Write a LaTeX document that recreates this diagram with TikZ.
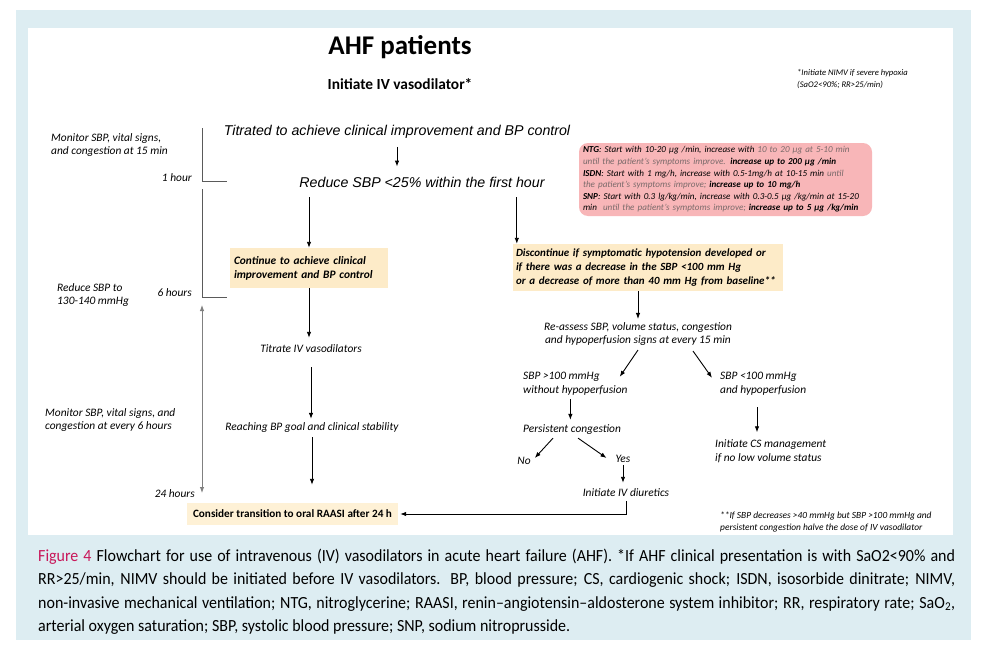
\documentclass[tikz,border=0pt]{standalone}
\usepackage{fontspec}
\setmainfont{Carlito}
\newfontfamily\arialfont{Liberation Sans}
\newfontfamily\capfont{Carlito}[FakeStretch=0.94]
\usetikzlibrary{arrows.meta}
\definecolor{bgblue}{HTML}{DDEDF2}
\definecolor{boxyellow}{HTML}{FDEBC8}
\definecolor{boxpale}{HTML}{FEF1D6}
\definecolor{boxpink}{HTML}{F8B6B8}
\definecolor{figred}{HTML}{C8175A}
\definecolor{notegray}{HTML}{7A6A6A}
\definecolor{linegray}{HTML}{5A5A5A}
\begin{document}
\begin{tikzpicture}[x=1pt, y=-1pt, >={Latex[length=6pt,width=4.5pt]},
  txt/.style={inner sep=0pt, align=left, font=\itshape\fontsize{11.4}{13.8}\selectfont},
  mainline/.style={inner sep=0pt, font=\arialfont\itshape\fontsize{14.2}{16}\selectfont},
  ybox/.style={fill=boxyellow, align=left, inner xsep=4pt, inner ysep=2pt, font=\bfseries\itshape\fontsize{11.4}{13.8}\selectfont},
  note/.style={inner sep=0pt, align=left, font=\itshape\fontsize{8.6}{12}\selectfont},
  flow/.style={->, line width=0.9pt},
  hours/.style={draw=linegray, line width=0.9pt}]
\useasboundingbox (0,0) rectangle (985,661);
\fill[bgblue] (16,10) rectangle (971,640);
\fill[white] (28,28) rectangle (953,535);

\node[font=\bfseries\fontsize{27}{30}\selectfont] (title) at (400,47) {AHF patients};
\node[font=\bfseries\fontsize{15.4}{18}\selectfont] (init) at (400,84) {Initiate IV vasodilator*};
\node[note, anchor=west] (nimv) at (797,79) {*Initiate NIMV if severe hypoxia\\(SaO2<90\%; RR>25/min)};

% time line on the left
\node[txt, anchor=west] (mon1) at (51,145) {Monitor SBP, vital signs,\\and congestion at 15 min};
\node[txt, anchor=east] (h1) at (192,178) {1 hour};
\node[txt, anchor=west] (goal) at (57,295) {Reduce SBP to\\130-140 mmHg};
\node[txt, anchor=east] (h6) at (192,293) {6 hours};
\node[txt, anchor=west] (mon6) at (45,420) {Monitor SBP, vital signs, and\\congestion at every 6 hours};
\node[txt, anchor=east] (h24) at (195,494) {24 hours};
\draw[hours] (202,128) -- (202,181) -- (227,181);
\draw[hours] (202,189) -- (202,297) -- (227,297);
\draw[hours, draw=gray, <->] (202,305) -- (202,493);

% first hour
\node[mainline] (titr) at (397,132) {Titrated to achieve clinical improvement and BP control};
\node[mainline] (red) at (422,182) {Reduce SBP <25\% within the first hour};
\draw[flow, shorten <=8pt, shorten >=10pt] (titr.south) -- (titr.south |- red.north);

% left branch
\node[ybox, text width=150pt, minimum height=40pt] (cont) at (309,268) {Continue to achieve clinical\\improvement and BP control};
\node[txt] (titrate) at (311,349) {Titrate IV vasodilators};
\node[txt] (reach) at (312,428) {Reaching BP goal and clinical stability};
\node[ybox, fill=boxpale, font=\bfseries\fontsize{11.2}{12}\selectfont, minimum width=211pt, minimum height=22pt] (cons) at (292.5,514) {Consider transition to oral RAASI after 24 h};
\draw[flow, shorten <=10pt] (red.south -| cont.north) -- (cont.north);
\draw[flow, shorten >=7pt] (cont.south) -- (cont.south |- titrate.north);
\draw[flow, shorten <=14pt, shorten >=4pt] (titrate.south) -- (titrate.south |- reach.north);
\draw[flow, shorten <=4pt, shorten >=18pt] (reach.south) -- (reach.south |- cons.north);

% right branch
\node[ybox, font=\bfseries\itshape\fontsize{11}{14}\selectfont, text width=264pt, minimum height=47pt, inner xsep=3pt] (disc) at (648,267.5) {Discontinue if symptomatic hypotension developed or\\if there was a decrease in the SBP <100 mm Hg\\or a decrease of more than 40 mm Hg from baseline**};
\node[rounded corners=9pt, fill=boxpink, inner xsep=4pt, text width=285pt, minimum height=73pt, align=left, font=\itshape\fontsize{9.1}{11.6}\selectfont] (dose) at (725.5,179.5) {\textbf{NTG}: Start with 10-20 µg /min, increase with {\color{notegray}10 to 20 µg at 5-10 min}\\{\color{notegray}until the patient's symptoms improve.} \textbf{increase up to 200 µg /min}\\\textbf{ISDN}: Start with 1 mg/h, increase with 0.5-1mg/h at 10-15 min {\color{notegray}until}\\{\color{notegray}the patient's symptoms improve;} \textbf{increase up to 10 mg/h}\\\textbf{SNP}: Start with 0.3 lg/kg/min, increase with 0.3-0.5 µg /kg/min at 15-20\\min \ {\color{notegray}until the patient's symptoms improve;} \textbf{increase up to 5 µg /kg/min}};
\draw[flow, shorten <=10pt] ([xshift=4pt]disc.north west |- red.south) -- ([xshift=4pt]disc.north west);

\node[txt, align=center] (reas) at (638,334) {Re-assess SBP, volume status, congestion\\and hypoperfusion signs at every 15 min};
\node[txt, anchor=west] (hi) at (523,383.5) {SBP >100 mmHg\\without hypoperfusion};
\node[txt, anchor=west] (lo) at (720,383.5) {SBP <100 mmHg\\and hypoperfusion};
\node[txt, anchor=west] (pers) at (523,430) {Persistent congestion};
\node[txt] (no) at (524,461) {No};
\node[txt] (yes) at (623,459) {Yes};
\node[txt] (diur) at (626,493) {Initiate IV diuretics};
\node[txt, anchor=west] (cs) at (715,451) {Initiate CS management\\if no low volume status};
\node[note, font=\itshape\fontsize{9.4}{12}\selectfont, anchor=west] (halve) at (720,522) {**If SBP decreases >40 mmHg but SBP >100 mmHg and\\persistent congestion halve the dose of IV vasodilator};

\draw[flow, shorten >=3pt] (disc.south -| reas.north) -- (reas.north);
\draw[flow] ([yshift=-4pt]reas.south) -- ([xshift=-8pt,yshift=-5pt]hi.north east);
\draw[flow] ([xshift=55pt,yshift=-5pt]reas.south) -- ([xshift=-8pt,yshift=-6pt]lo.north west);
\draw[flow, shorten <=4pt, shorten >=5pt] ([xshift=-5pt]hi.south) -- ([xshift=-5pt]hi.south |- pers.north);
\draw[flow] ([xshift=-19pt,yshift=-3pt]pers.south) -- ([xshift=4pt,yshift=3pt]no.east);
\draw[flow] ([xshift=6pt,yshift=-3pt]pers.south) -- ([xshift=-9pt,yshift=1pt]yes.west);
\draw[flow, shorten <=2pt, shorten >=6pt] (yes.south) -- (yes.south |- diur.north);
\draw[flow, shorten <=4pt, shorten >=2pt] (diur.south) |- (cons.east);
\draw[flow, shorten <=12pt, shorten >=7pt] ([xshift=42pt]cs.west |- lo.south) -- ([xshift=42pt]cs.north west);

% caption
\node[anchor=north west, inner sep=0pt, text width=917pt, align=justify, font=\capfont\fontsize{17}{23.3}\selectfont] (cap) at (38,549) {{\color{figred}\fontsize{17}{23.3}\selectfont Figure 4}\ Flowchart for use of intravenous (IV) vasodilators in acute heart failure (AHF). *If AHF clinical presentation is with SaO2<90\% and\linebreak RR>25/min, NIMV should be initiated before IV vasodilators. BP, blood pressure; CS, cardiogenic shock; ISDN, isosorbide dinitrate; NIMV,\linebreak non-invasive mechanical ventilation; NTG, nitroglycerine; RAASI, renin–angiotensin–aldosterone system inhibitor; RR, respiratory rate; SaO\textsubscript{2},\linebreak arterial oxygen saturation; SBP, systolic blood pressure; SNP, sodium nitroprusside.};
\end{tikzpicture}
\end{document}
